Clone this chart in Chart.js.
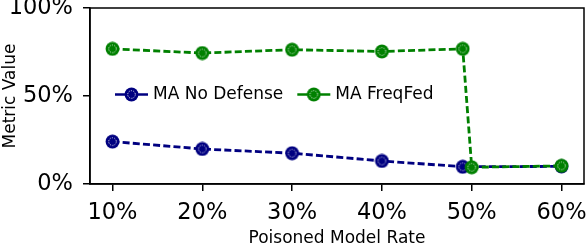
<!DOCTYPE html>
<html>
<head>
<meta charset="utf-8">
<script src="https://cdn.jsdelivr.net/npm/chart.js@4.4.0/dist/chart.umd.min.js"></script>
<style>
  html, body { margin: 0; padding: 0; background: #fff; }
  #wrap { width: 588px; height: 244px; }
</style>
</head>
<body>
<div id="wrap"><canvas id="chart" width="588" height="244"></canvas></div>
<script>
// values
const noDefenseRates = [10, 20, 30, 40, 49, 60];
const noDefense = [24.1, 19.9, 17.5, 13.1, 9.8, 10.0];
const freqFedRates = [10, 20, 30, 40, 49, 50, 60];
const freqFed = [76.8, 74.4, 76.3, 75.3, 76.8, 9.5, 10.3];
const xTicks = [10, 20, 30, 40, 50, 60];
const yTicks = [0, 50, 100];
const seriesNames = ['MA No Defense', 'MA FreqFed'];

const FONT = 'DejaVu Sans';

// circle marker with the thin white dotted ring inside
function makeMarker(color) {
    const c = document.createElement('canvas');
    c.width = 15;
    c.height = 15;
    const ctx = c.getContext('2d');
    ctx.fillStyle = color;
    ctx.beginPath();
    ctx.arc(7.5, 7.5, 6.9, 0, Math.PI * 2);
    ctx.fill();
    ctx.strokeStyle = '#fff';
    ctx.lineWidth = 0.8;
    ctx.setLineDash([1.2, 1.2]);
    ctx.beginPath();
    ctx.arc(7.5, 7.5, 3.8, 0, Math.PI * 2);
    ctx.stroke();
    return c;
}

const navyMarker = makeMarker('#000080');
const greenMarker = makeMarker('#008000');

function toPoints(xs, ys) {
    return xs.map((x, i) => ({ x: x, y: ys[i] }));
}

// frame around the axes + legend inside the plot
const framePlugin = {
    id: 'frame',
    afterDraw(chart) {
        const ctx = chart.ctx;
        const a = chart.chartArea;
        ctx.save();
        ctx.strokeStyle = '#000';
        ctx.lineWidth = 1.5;
        ctx.strokeRect(a.left, a.top, a.right - a.left, a.bottom - a.top);

        // legend
        ctx.font = '17px "' + FONT + '"';
        ctx.textBaseline = 'middle';
        const colors = ['#000080', '#008000'];
        const markers = [navyMarker, greenMarker];
        let x = a.left + 25;
        const y = a.top + 86.5;
        seriesNames.forEach((name, i) => {
            ctx.strokeStyle = colors[i];
            ctx.lineWidth = 2.6;
            ctx.setLineDash([]);
            ctx.beginPath();
            ctx.moveTo(x, y);
            ctx.lineTo(x + 33, y);
            ctx.stroke();
            ctx.drawImage(markers[i], x + 16.5 - 7.5, y - 7.5);
            ctx.fillStyle = '#000';
            ctx.fillText(name, x + 38, y + 0.5);
            x += 38 + ctx.measureText(name).width + 14;
        });
        ctx.restore();
    }
};

new Chart(document.getElementById('chart'), {
    type: 'line',
    data: {
        datasets: [
            {
                label: seriesNames[0],
                data: toPoints(noDefenseRates, noDefense),
                borderColor: '#000080',
                backgroundColor: '#000080',
                borderWidth: 2.8,
                borderDash: [7, 3.2],
                pointStyle: navyMarker,
                pointRadius: 7,
                order: 1
            },
            {
                label: seriesNames[1],
                data: toPoints(freqFedRates, freqFed),
                borderColor: '#008000',
                backgroundColor: '#008000',
                borderWidth: 2.8,
                borderDash: [7, 3.2],
                pointStyle: greenMarker,
                pointRadius: 7,
                order: 0
            }
        ]
    },
    options: {
        responsive: false,
        animation: false,
        clip: false,
        layout: {
            autoPadding: false,
            padding: { top: 8, right: 4, left: 0, bottom: 0 }
        },
        plugins: {
            legend: { display: false },
            tooltip: { enabled: false }
        },
        scales: {
            x: {
                type: 'linear',
                min: 7.5,
                max: 62.5,
                afterBuildTicks: (scale) => {
                    scale.ticks = xTicks.map(v => ({ value: v }));
                },
                afterFit: (scale) => {
                    scale.height = 60;
                    scale.paddingLeft = 0;
                    scale.paddingRight = 0;
                },
                grid: {
                    drawOnChartArea: false,
                    drawTicks: true,
                    tickLength: 7,
                    color: '#000',
                    lineWidth: 1.5
                },
                border: { display: true, color: '#000', width: 1.5 },
                ticks: {
                    color: '#000',
                    font: { family: FONT, size: 22.5 },
                    padding: 9,
                    maxRotation: 0,
                    autoSkip: false,
                    callback: v => v + '%'
                },
                title: {
                    display: true,
                    text: 'Poisoned Model Rate',
                    color: '#000',
                    font: { family: FONT, size: 17, lineHeight: 0.67 },
                    padding: { top: 0, bottom: 0 }
                }
            },
            y: {
                min: 0,
                max: 100,
                afterBuildTicks: (scale) => {
                    scale.ticks = yTicks.map(v => ({ value: v }));
                },
                afterFit: (scale) => {
                    scale.width = 90;
                    scale.paddingTop = 0;
                    scale.paddingBottom = 0;
                },
                grid: {
                    drawOnChartArea: false,
                    drawTicks: true,
                    tickLength: 7,
                    color: '#000',
                    lineWidth: 1.5
                },
                border: { display: true, color: '#000', width: 1.5 },
                ticks: {
                    color: '#000',
                    font: { family: FONT, size: 22.5 },
                    padding: 10,
                    callback: v => v + '%'
                },
                title: {
                    display: true,
                    text: 'Metric Value',
                    color: '#000',
                    font: { family: FONT, size: 17 },
                    padding: { top: 0, bottom: 0 }
                }
            }
        }
    },
    plugins: [framePlugin]
});
</script>
</body>
</html>
